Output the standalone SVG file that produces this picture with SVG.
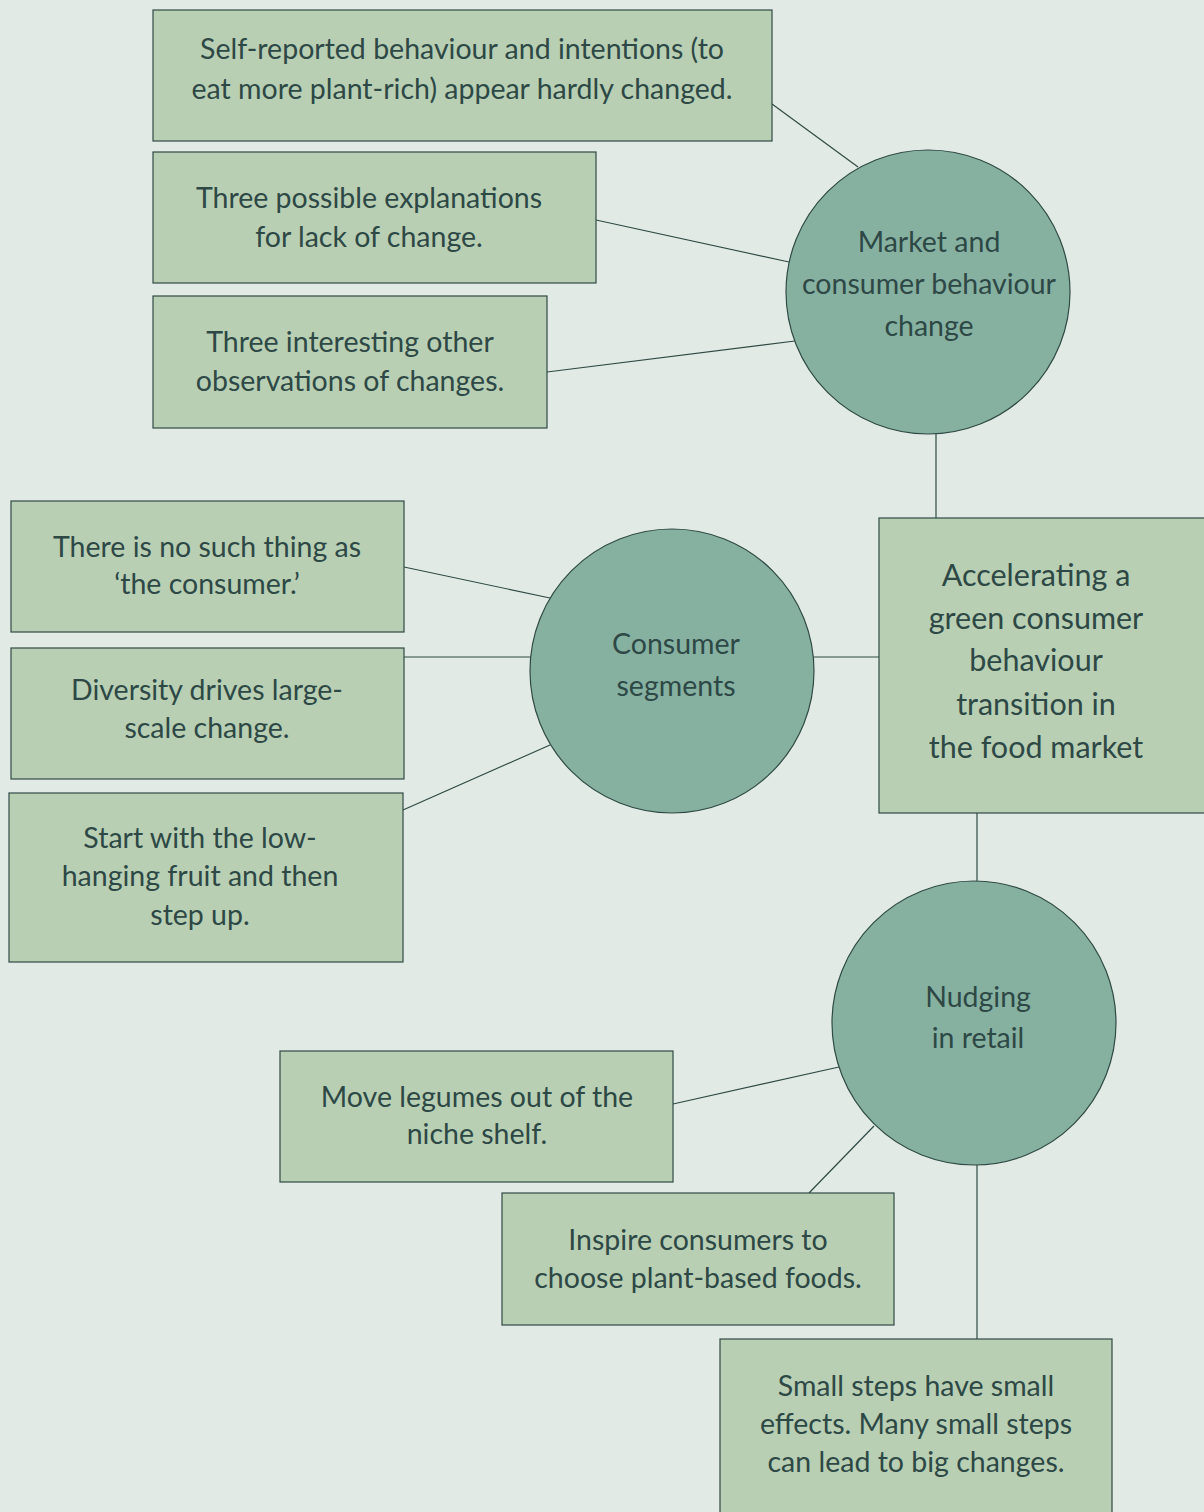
<svg xmlns="http://www.w3.org/2000/svg" width="1204" height="1512" viewBox="0 0 1204 1512">
<style>
.bg{fill:#E2EAE5}
.box{fill:#B8CFB4;stroke:#2F4A45;stroke-width:1.2}
.circ{fill:#86B1A1;stroke:#2F4A45;stroke-width:1.2}
.ln{stroke:#2F4A45;stroke-width:1.2;fill:none}
text{font-family:Lato,"Open Sans",sans-serif;font-size:28.5px;fill:#2D4845;text-anchor:middle}
.big{font-size:30.5px}
</style>
<rect class="bg" x="0" y="0" width="1204" height="1512"/>
<g id="connectors">
<line class="ln" x1="772" y1="104" x2="858" y2="167"/>
<line class="ln" x1="596" y1="220" x2="789" y2="262"/>
<line class="ln" x1="547" y1="372" x2="795" y2="341"/>
<line class="ln" x1="936" y1="434" x2="936" y2="518"/>
<line class="ln" x1="814" y1="657" x2="879" y2="657"/>
<line class="ln" x1="404" y1="567" x2="550" y2="598"/>
<line class="ln" x1="404" y1="657" x2="530" y2="657"/>
<line class="ln" x1="403" y1="810" x2="550" y2="745"/>
<line class="ln" x1="977" y1="813" x2="977" y2="882"/>
<line class="ln" x1="673" y1="1104" x2="839" y2="1067"/>
<line class="ln" x1="809" y1="1193" x2="874" y2="1126"/>
<line class="ln" x1="977" y1="1165" x2="977" y2="1339"/>
</g>
<g id="box1"><rect class="box" x="153" y="10" width="619" height="131"/>
<text x="462" y="59">Self-reported behaviour and intentions (to</text>
<text x="462" y="99">eat more plant-rich) appear hardly changed.</text></g>
<g id="box2"><rect class="box" x="153" y="152" width="443" height="131"/>
<text x="369" y="208">Three possible explanations</text>
<text x="369" y="247">for lack of change.</text></g>
<g id="box3"><rect class="box" x="153" y="296" width="394" height="132"/>
<text x="350" y="352">Three interesting other</text>
<text x="350" y="391">observations of changes.</text></g>
<g id="market"><circle class="circ" cx="928" cy="292" r="142"/>
<text x="929" y="252">Market and</text>
<text x="929" y="294">consumer behaviour</text>
<text x="929" y="336">change</text></g>
<g id="central"><rect class="box" x="879" y="518" width="330" height="295"/>
<text class="big" x="1036" y="586">Accelerating a</text>
<text class="big" x="1036" y="629">green consumer</text>
<text class="big" x="1036" y="671">behaviour</text>
<text class="big" x="1036" y="715">transition in</text>
<text class="big" x="1036" y="758">the food market</text></g>
<g id="segments"><circle class="circ" cx="672" cy="671" r="142"/>
<text x="676" y="654">Consumer</text>
<text x="676" y="696">segments</text></g>
<g id="box4"><rect class="box" x="11" y="501" width="393" height="131"/>
<text x="207" y="557">There is no such thing as</text>
<text x="207" y="594">‘the consumer.’</text></g>
<g id="box5"><rect class="box" x="11" y="648" width="393" height="131"/>
<text x="207" y="700">Diversity drives large-</text>
<text x="207" y="738">scale change.</text></g>
<g id="box6"><rect class="box" x="9" y="793" width="394" height="169"/>
<text x="200" y="848">Start with the low-</text>
<text x="200" y="886">hanging fruit and then</text>
<text x="200" y="925">step up.</text></g>
<g id="nudging"><circle class="circ" cx="974" cy="1023" r="142"/>
<text x="978" y="1007">Nudging</text>
<text x="978" y="1048">in retail</text></g>
<g id="box7"><rect class="box" x="280" y="1051" width="393" height="131"/>
<text x="477" y="1107">Move legumes out of the</text>
<text x="477" y="1144">niche shelf.</text></g>
<g id="box8"><rect class="box" x="502" y="1193" width="392" height="132"/>
<text x="698" y="1250">Inspire consumers to</text>
<text x="698" y="1288">choose plant-based foods.</text></g>
<g id="box9"><rect class="box" x="720" y="1339" width="392" height="180"/>
<text x="916" y="1396">Small steps have small</text>
<text x="916" y="1434">effects. Many small steps</text>
<text x="916" y="1472">can lead to big changes.</text></g>
</svg>
